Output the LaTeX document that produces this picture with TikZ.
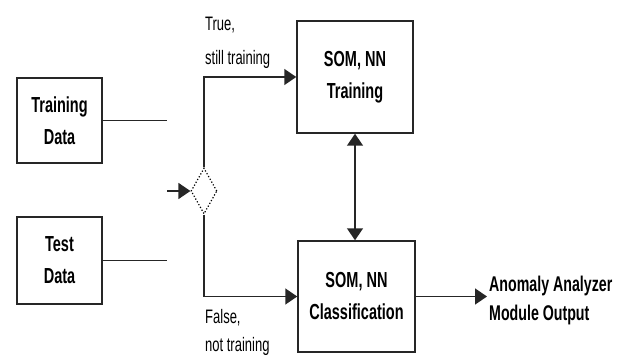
\documentclass[tikz,border=0pt]{standalone}
\usepackage{graphicx}
\usepackage{fontspec}
\setmainfont{Liberation Sans}
\usetikzlibrary{shapes.geometric, arrows.meta}
\newcommand{\tallt}[1]{\scalebox{1}[1.5]{#1}}

\begin{document}
\begin{tikzpicture}[x=1pt, y=-1pt, >={Triangle[length=12pt,width=16pt]},
         block/.style={
         % The shape:
         rectangle,
         % The border
         line width=1.5pt, draw=black!85,
         fill = white,
         % Font
         font=\fontsize{14.5}{32}\selectfont\bfseries, align=center},
         flow/.style={line width=1.5pt, draw=black!85},
         branch/.style={font=\fontsize{13}{34}\selectfont, align=left,
         anchor=north west, inner sep=0pt}]
         \useasboundingbox (0,0) rectangle (628,358);
         % Inputs
         \node[block, minimum width=85pt, minimum height=85pt] (traindata) at (59.5,120.5) {\tallt{Training}\\\tallt{Data}};
         \node[block, minimum width=85pt, minimum height=87pt] (testdata) at (59.5,260.5) {\tallt{Test}\\\tallt{Data}};
         \coordinate (trainend) at (167,120.5);
         \coordinate (testend) at (167,260.5);
         \coordinate (checkin) at (167,191);
         \draw[flow] (traindata) -- (trainend);
         \draw[flow] (testdata) -- (testend);
         % Decision
         \node[diamond, draw=black, dotted, line width=1.2pt, minimum width=26pt,
               minimum height=46pt, inner sep=0pt] (check) at (204,191) {};
         \draw[flow, ->] (checkin) -- (check.west);
         % SOM, NN blocks
         \node[block, minimum width=116pt, minimum height=112pt] (somtrain) at (355,77) {\tallt{SOM, NN}\\\tallt{Training}};
         \node[block, minimum width=117pt, minimum height=111pt] (somclass) at (356.5,296.5) {\tallt{SOM, NN}\\\tallt{Classification}};
         \draw[flow, ->] (check.north) |- (somtrain.west);
         \draw[flow, ->] (check.south) |- (somclass.west);
         \draw[flow, <->] (somtrain.south) -- (somtrain.south |- somclass.north);
         \node[branch] (truelbl) at (205,17) {\tallt{True,}\\\tallt{still training}};
         \node[branch, font=\fontsize{13}{28}\selectfont] (falselbl) at (205,309) {\tallt{False,}\\\tallt{not training}};
         % Output
         \node[font=\fontsize{14.2}{29}\selectfont\bfseries, align=left, anchor=west,
               inner sep=2pt] (output) at (487,300) {\tallt{Anomaly Analyzer}\\\tallt{Module Output}};
         \draw[flow, ->] (somclass.east) -- (somclass.east -| output.west);
      \end{tikzpicture}
\end{document}
